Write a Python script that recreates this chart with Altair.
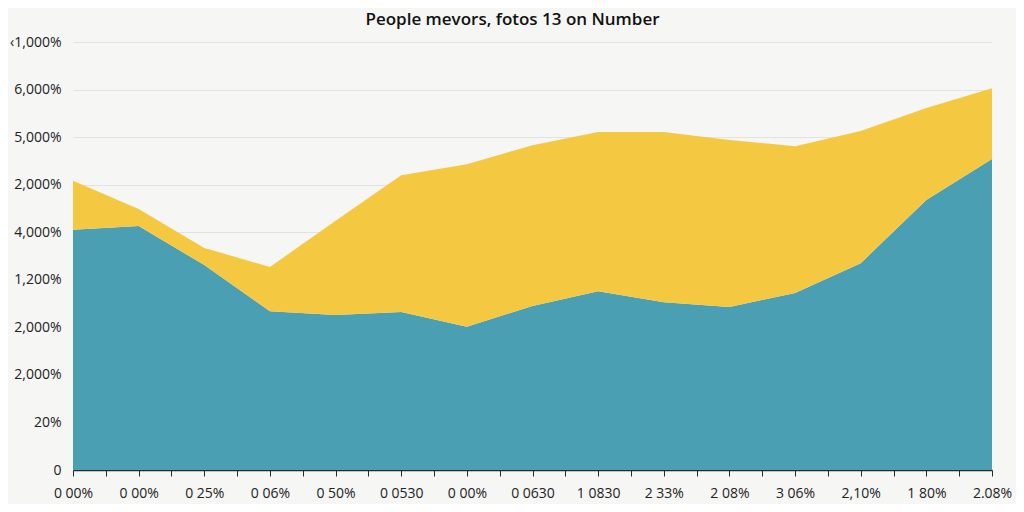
import altair as alt
import pandas as pd

# -----------------------------
# DATA
# -----------------------------
x_labels = ["0 00%", "0 00%", "0 25%", "0 06%", "0 50%", "0 0530", "0 00%",
            "0 0630", "1 0830", "2 33%", "2 08%", "3 06%", "2,10%", "1 80%", "2.08%"]
y_labels = ["0", "20%", "2,000%", "2,000%", "1,200%", "4,000%",
            "2,000%", "5,000%", "6,000%", "\u20391,000%"]

teal = [5.05, 5.13, 4.31, 3.34, 3.26, 3.32, 3.01, 3.45, 3.76, 3.53,
        3.43, 3.72, 4.35, 5.68, 6.54]
yellow = [1.03, 0.36, 0.36, 0.93, 1.98, 2.88, 3.42, 3.38, 3.35, 3.58,
          3.51, 3.09, 2.78, 1.93, 1.49]

series_names = ["Teal", "Yellow"]
series_colors = ["#4a9fb3", "#f5c842"]

rows = []
for i in range(len(x_labels)):
    rows.append({"idx": i, "series": "Teal", "order": 0, "value": teal[i]})
    rows.append({"idx": i, "series": "Yellow", "order": 1, "value": yellow[i]})
df = pd.DataFrame(rows)

x_expr = "datum.value % 1 == 0 ? " + str(x_labels) + "[datum.value] : ''"
y_expr = str(y_labels) + "[datum.value]"

# -----------------------------
# STACKED AREA
# -----------------------------
chart = (
    alt.Chart(df)
    .mark_area(interpolate="linear", opacity=1)
    .encode(
        x=alt.X(
            "idx:Q",
            scale=alt.Scale(domain=[0, 14], nice=False, zero=False),
            axis=alt.Axis(
                title=None,
                values=[i / 2 for i in range(29)],
                labelExpr=x_expr,
                labelFlush=False,
                grid=False,
                domainColor="#2b2b2b",
                domainWidth=1.5,
                tickColor="#2b2b2b",
                tickSize=6,
                labelPadding=10,
                labelFontSize=14,
                labelColor="#222222",
                labelFont="Open Sans",
                labelOverlap=False,
            ),
        ),
        y=alt.Y(
            "value:Q",
            stack="zero",
            scale=alt.Scale(domain=[0, 9], nice=False),
            axis=alt.Axis(
                title=None,
                values=list(range(10)),
                labelExpr=y_expr,
                domain=False,
                ticks=False,
                gridColor="#e2e2e0",
                gridWidth=1,
                labelPadding=12,
                labelFontSize=14,
                labelColor="#222222",
                labelFont="Open Sans",
            ),
        ),
        color=alt.Color(
            "series:N",
            scale=alt.Scale(domain=series_names, range=series_colors),
            legend=None,
        ),
        order=alt.Order("order:Q"),
    )
    .properties(
        width=919,
        height=428,
        autosize=alt.AutoSizeParams(type="none"),
        padding={"left": 65, "top": 34, "right": 24, "bottom": 34},
        background="#f6f6f4",
        title=alt.TitleParams(
            "People mevors, fotos 13 on Number",
            fontSize=17,
            fontWeight=600,
            font="Open Sans",
            color="#111111",
            anchor="middle",
            dx=-20,
            offset=6,
        ),
    )
    .configure_view(stroke=None)
)

chart.save("out.html", embed_options={"renderer": "svg", "actions": False})
